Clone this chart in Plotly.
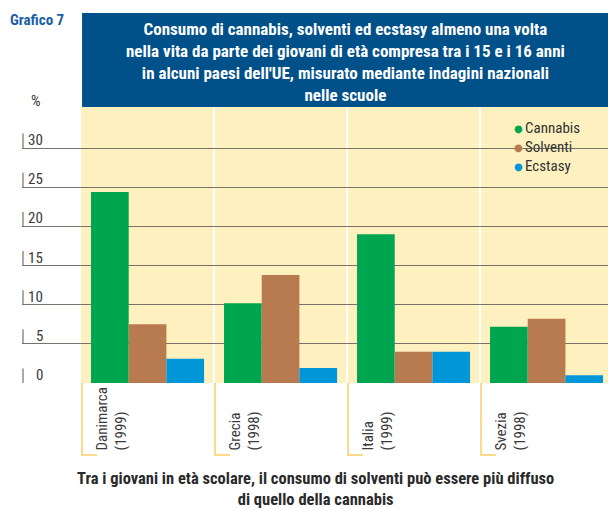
import plotly.graph_objects as go

countries = ["Danimarca<br>(1999)", "Grecia<br>(1998)", "Italia<br>(1999)", "Svezia<br>(1998)"]
series_names = ["Cannabis", "Solventi", "Ecstasy"]
cannabis = [24.4, 10.2, 19.0, 7.2]
solventi = [7.5, 13.8, 4.0, 8.2]
ecstasy = [3.1, 1.9, 4.0, 1.0]
y_ticks = [0, 5, 10, 15, 20, 25, 30]

title_text = ("Consumo di cannabis, solventi ed ecstasy almeno una volta<br>"
              "nella vita da parte dei giovani di età compresa tra i 15 e i 16 anni<br>"
              "in alcuni paesi dell'UE, misurato mediante indagini nazionali<br>"
              "nelle scuole")
footer_text = ("Tra i giovani in età scolare, il consumo di solventi può essere più diffuso<br>"
               "di quello della cannabis")

colors = ["#00a54f", "#b87a4f", "#0096d8"]
NARROW = "Roboto Condensed, Open Sans Condensed, Liberation Sans Narrow, sans-serif"

W, H = 608, 511
ML, MR, MT, MB = 22, 0, 107, 128
XMIN, XMAX = -0.944, 3.462
YMAX = 35.25
pw = W - ML - MR
ph = H - MT - MB

def xp(v):
    return (v - XMIN) / (XMAX - XMIN)

def px_x(p):
    return (p - ML) / pw

def px_y(p):
    return ((H - MB) - p) / ph

cats = list(range(len(countries)))
fig = go.Figure()
for name, vals, c in zip(series_names, [cannabis, solventi, ecstasy], colors):
    fig.add_trace(go.Bar(x=cats, y=vals, name=name, marker=dict(color=c, line=dict(width=0)),
                         showlegend=False))

shapes = []
# yellow background
shapes.append(dict(type="rect", xref="paper", yref="paper", x0=xp(-0.5), x1=1, y0=0, y1=1,
                   fillcolor="#fef0bf", line=dict(width=0), layer="below"))
# white separators
for i in range(1, len(countries)):
    shapes.append(dict(type="line", xref="paper", yref="paper", x0=xp(i - 0.5), x1=xp(i - 0.5),
                       y0=0, y1=1, line=dict(color="white", width=2), layer="below"))
# title box
shapes.append(dict(type="rect", xref="paper", yref="paper", x0=xp(-0.5) + 1 / pw, x1=1,
                   y0=1, y1=px_y(13), fillcolor="#00508a", line=dict(width=0)))
# brackets under categories
bdrop = px_y(455)
for i in range(len(countries)):
    x0 = xp(i - 0.5) + 1 / pw
    x1 = x0 + 15 / pw
    shapes.append(dict(type="path", xref="paper", yref="paper",
                       path=f"M {x0} 0 L {x0} {bdrop} L {x1} {bdrop}",
                       line=dict(color="#fdd98a", width=2)))
# small vertical tick marks at the left of gridlines
for v in y_ticks:
    shapes.append(dict(type="line", xref="paper", yref="y", x0=1 / pw, x1=1 / pw,
                       y0=v, y1=v + 1.85, line=dict(color="#77726a", width=1.2)))

annotations = []
for v in y_ticks:
    annotations.append(dict(text=str(v), xref="paper", yref="y", x=px_x(45), y=v, yshift=8,
                            xanchor="right", yanchor="middle", showarrow=False,
                            font=dict(family=NARROW, size=15, color="#3a3a3a")))
for i, lab in enumerate(countries):
    annotations.append(dict(text=lab, xref="x", x=i - 0.5 + 9 / 133, xanchor="left",
                            yref="paper", y=px_y(453), yanchor="bottom",
                            textangle=-90, align="left", showarrow=False,
                            font=dict(family=NARROW, size=15, color="#3a3a3a")))
# legend (dot + label)
for k, (name, c) in enumerate(zip(series_names, colors)):
    yc = 128 + k * 19
    annotations.append(dict(text="●", xref="paper", yref="paper", x=px_x(518), y=px_y(yc),
                            xanchor="center", yanchor="middle", showarrow=False,
                            font=dict(family="DejaVu Sans", size=10, color=c)))
    annotations.append(dict(text=name, xref="paper", yref="paper", x=px_x(523), y=px_y(yc),
                            xanchor="left", yanchor="middle", showarrow=False,
                            font=dict(family=NARROW, size=15, color="#333")))
annotations.append(dict(text="%", xref="paper", yref="paper", x=px_x(36), y=px_y(101),
                        xanchor="center", yanchor="middle", showarrow=False,
                        font=dict(family=NARROW, size=15, color="#3a3a3a")))
annotations.append(dict(text="<b>Grafico 7</b>", xref="paper", yref="paper", x=px_x(8),
                        y=px_y(20), xanchor="left", yanchor="middle", showarrow=False,
                        font=dict(family=NARROW, size=15, color="#1d5ea8")))
annotations.append(dict(text="<b>" + title_text + "</b>", xref="paper", yref="paper",
                        x=px_x(345), y=px_y(61.5), xanchor="center", yanchor="middle",
                        showarrow=False, align="center",
                        font=dict(family=NARROW, size=17, color="white")))
annotations.append(dict(text="<b>" + footer_text + "</b>", xref="paper", yref="paper",
                        x=px_x(315), y=px_y(489), xanchor="center", yanchor="middle",
                        showarrow=False, align="center",
                        font=dict(family=NARROW, size=16.5, color="#2a2a2a")))

fig.update_layout(
    width=W, height=H,
    margin=dict(l=ML, r=MR, t=MT, b=MB, pad=0),
    paper_bgcolor="white", plot_bgcolor="rgba(0,0,0,0)",
    barmode="group", bargap=0.15, bargroupgap=0,
    shapes=shapes, annotations=annotations, showlegend=False,
    xaxis=dict(type="linear", range=[XMIN, XMAX], showgrid=False, showticklabels=False,
               zeroline=False, showline=False, ticks="", fixedrange=True),
    yaxis=dict(range=[0, YMAX], tickvals=y_ticks, showticklabels=False, showgrid=True,
               gridcolor="#77726a", gridwidth=1.3, zeroline=False, showline=False, ticks="",
               fixedrange=True),
)

fig.write_html("out.html", config={"displayModeBar": False},
               post_script="document.body.style.margin='0px';")
